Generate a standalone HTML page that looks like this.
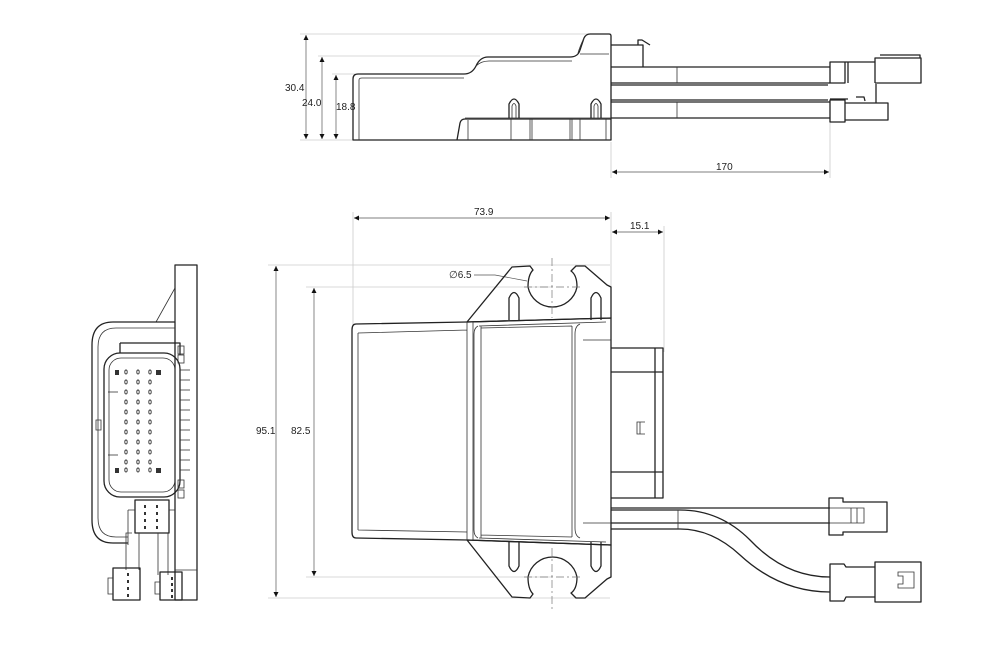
<!DOCTYPE html>
<html><head><meta charset="utf-8"><style>
html,body{margin:0;padding:0;background:#fff;}
svg{display:block;font-family:"Liberation Sans",sans-serif;}
.o{fill:none;stroke:#222;stroke-width:1.3;stroke-linejoin:round}
.t{fill:none;stroke:#333;stroke-width:0.8}
.d{fill:none;stroke:#ccc;stroke-width:0.8}
.dm{fill:none;stroke:#555;stroke-width:0.7}
.c{fill:none;stroke:#777;stroke-width:0.7;stroke-dasharray:8 3 2 3}
text{font-size:10px;fill:#222}
</style></head><body>
<svg width="1000" height="660" viewBox="0 0 1000 660" xmlns="http://www.w3.org/2000/svg">
<defs>
<marker id="a" viewBox="0 0 10 10" refX="10" refY="5" markerWidth="11" markerHeight="5" orient="auto-start-reverse" markerUnits="userSpaceOnUse"><path d="M0,0 L10,5 L0,10z" fill="#111"/></marker>
</defs>

<!-- ===== TOP SIDE VIEW ===== -->
<g class="d">
<line x1="300" y1="34" x2="608" y2="34"/>
<line x1="318" y1="56" x2="480" y2="56"/>
<line x1="332" y1="74" x2="355" y2="74"/>
<line x1="300" y1="140" x2="353" y2="140"/>
<line x1="611" y1="142" x2="611" y2="178"/>
<line x1="830" y1="122" x2="830" y2="178"/>
</g>
<g class="dm">
<line x1="306" y1="35" x2="306" y2="139" marker-start="url(#a)" marker-end="url(#a)"/>
<line x1="322" y1="57" x2="322" y2="139" marker-start="url(#a)" marker-end="url(#a)"/>
<line x1="336" y1="75" x2="336" y2="139" marker-start="url(#a)" marker-end="url(#a)"/>
<line x1="612" y1="172" x2="829" y2="172" marker-start="url(#a)" marker-end="url(#a)"/>
</g>
<text x="285" y="91">30.4</text>
<text x="302" y="106">24.0</text>
<text x="336" y="110">18.8</text>
<text x="716" y="170">170</text>

<path class="o" d="M353,140 L353,79 Q353,74 358,74 L464,74 Q472,74 476,66 Q480,57 488,57 L570,57 Q578,57 580,50 L584,38 Q586,34 590,34 L609,34 Q611,34 611,36 L611,140 Z"/>
<path class="t" d="M359,140 L359,80 Q359,78 362,78 L464,78 M476,66 Q481,61 489,61 L572,61 M584,38 Q580,46 578,53 M580,54 L609,54"/>
<path class="o" d="M457,140 L460,123 Q461,119 465,119 L611,119"/>
<line class="t" x1="468" y1="120" x2="468" y2="140"/><line class="t" x1="465" y1="118" x2="611" y2="118"/>
<g class="t"><line x1="511" y1="119" x2="511" y2="140"/><line x1="530" y1="119" x2="530" y2="140"/><line x1="532" y1="119" x2="532" y2="140"/><line x1="570" y1="119" x2="570" y2="140"/><line x1="572" y1="119" x2="572" y2="140"/><line x1="580" y1="119" x2="580" y2="140"/><line x1="606" y1="119" x2="606" y2="140"/></g>
<path class="o" d="M509,118 L509,104 Q514,94 519,104 L519,118 M591,118 L591,104 Q596,94 601,104 L601,118"/>
<path class="t" d="M512,118 L512,106 Q514,101 516,106 L516,118 M594,118 L594,106 Q596,101 598,106 L598,118"/>
<path class="o" d="M611,45 L643,45 L643,67 M638,45 L638,40 L642,40 L650,45"/>
<g class="o">
<line x1="611" y1="67" x2="830" y2="67"/>
<line x1="611" y1="83" x2="830" y2="83"/>
<line x1="611" y1="85" x2="828" y2="85"/>
<line x1="611" y1="100" x2="828" y2="100"/>
<line x1="611" y1="102" x2="830" y2="102"/>
<line x1="611" y1="118" x2="830" y2="118"/>
</g>
<line class="t" x1="677" y1="67" x2="677" y2="83"/><line class="t" x1="677" y1="102" x2="677" y2="118"/>
<path class="o" d="M830,62 L845,62 L845,83 L830,83 Z M845,62 L875,62 L875,58 L921,58 L921,83 L875,83 M848,62 L848,83 M875,58 L875,83 M880,55 L920,55 L920,58"/>
<path class="o" d="M830,100 L845,100 L845,122 L830,122 Z M845,103 L888,103 L888,120 L845,120 M876,103 L876,84 M856,97 L864,97 L865,101 M830,99 L848,99"/>

<!-- ===== FRONT VIEW ===== -->
<g class="d">
<line x1="353" y1="212" x2="353" y2="325"/>
<line x1="611" y1="212" x2="611" y2="318"/>
<line x1="664" y1="226" x2="664" y2="352"/>
<line x1="268" y1="265" x2="610" y2="265"/>
<line x1="306" y1="287" x2="552" y2="287"/>
<line x1="306" y1="577" x2="552" y2="577"/>
<line x1="268" y1="598" x2="610" y2="598"/>
</g>
<g class="dm">
<line x1="354" y1="218" x2="610" y2="218" marker-start="url(#a)" marker-end="url(#a)"/>
<line x1="612" y1="232" x2="663" y2="232" marker-start="url(#a)" marker-end="url(#a)"/>
<line x1="276" y1="266" x2="276" y2="597" marker-start="url(#a)" marker-end="url(#a)"/>
<line x1="314" y1="288" x2="314" y2="576" marker-start="url(#a)" marker-end="url(#a)"/>
</g>
<text x="474" y="215">73.9</text>
<text x="630" y="229">15.1</text>
<text x="256" y="434">95.1</text>
<text x="291" y="434">82.5</text>
<text x="449" y="278">∅6.5</text>
<path class="dm" d="M474,275 L495,275 L527,281"/>

<path class="o" d="M467,322 L512,267 L530,266 L533,270 Q528,275 528,287 A25,25 0 0 0 577,287 Q577,275 571,271 L576,266 L585,266 L607,285 L611,287 L611,318 Z"/>
<path class="o" d="M467,540 L512,597 L530,598 L533,594 Q528,589 528,577 A25,25 0 0 1 577,577 Q577,589 571,593 L576,598 L585,598 L607,579 L611,577 L611,545 Z"/>
<line class="c" x1="552" y1="258" x2="552" y2="318"/>
<line class="c" x1="524" y1="287" x2="580" y2="287"/>
<line class="c" x1="552" y1="548" x2="552" y2="610"/>
<line class="c" x1="524" y1="577" x2="580" y2="577"/>
<path class="o" d="M509,320 L509,298 Q514,287 519,298 L519,320 M591,320 L591,298 Q596,287 601,298 L601,320"/>
<path class="o" d="M509,542 L509,566 Q514,577 519,566 L519,542 M591,542 L591,566 Q596,577 601,566 L601,542"/>
<path class="o" d="M356,324 L467,322 L611,318 L611,545 L467,540 L356,538 Q352,538 352,532 L352,330 Q352,324 356,324 Z"/>
<path class="t" d="M358,333 L467,330 M358,530 L467,532 M358,333 L358,530 M467,322 L467,540 M473,322 L473,540 M478,326 Q474,328 474,334 L474,530 Q474,536 478,538 M481,326 L481,538 M481,328 L572,326 M481,535 L572,537 M572,326 L572,537 M580,324 Q575,326 575,334 L575,528 Q575,536 580,538 M583,340 L611,340 M583,523 L611,523 M479,326 L606,322 M479,538 L606,542"/>
<path class="o" d="M611,348 L663,348 L663,498 L611,498 M611,372 L663,372 M611,472 L663,472 M655,348 L655,498"/>
<path class="t" d="M645,422 L637,422 L637,434 L645,434 M640,422 L640,434"/>
<path class="o" d="M611,508 L830,508 M611,523 L830,523 M611,510 L680,510 Q720,510 750,540 Q785,577 830,577 M611,529 L680,529 Q712,529 740,555 Q780,592 830,592"/>
<line class="t" x1="678" y1="510" x2="678" y2="529"/>
<path class="o" d="M829,498 L843,498 L843,502 L887,502 L887,532 L843,532 L843,535 L829,535 Z"/>
<path class="t" d="M829,508 L864,508 L864,523 L829,523 M851,508 L851,523 M857,508 L857,523"/>
<path class="o" d="M830,564 L844,564 L846,567 L875,567 L875,562 L921,562 L921,602 L875,602 L875,597 L846,597 L844,601 L830,601 Z M875,562 L875,602"/>
<path class="t" d="M898,572 L914,572 L914,588 L898,588 L898,584 L903,584 L903,576 L898,576 Z"/>

<!-- ===== END VIEW (left) ===== -->
<path class="o" d="M175,265 L197,265 L197,600 L175,600 Z"/>
<path class="t" d="M175,288 L156,322 M175,265 L175,322 M175,570 L197,570"/>
<path class="o" d="M175,322 L113,322 Q92,322 92,345 L92,520 Q92,543 113,543 L128,543"/>
<path class="t" d="M175,328 L116,328 Q98,328 98,347 L98,518 Q98,537 116,537 L128,537"/>
<path class="o" d="M120,343 L180,343 L180,355 M120,343 L120,353"/>
<rect class="o" x="104" y="353" width="76" height="144" rx="16"/>
<rect class="t" x="109" y="358" width="66" height="134" rx="12"/>
<path class="t" d="M96,420 L101,420 L101,430 L96,430 Z"/>
<g class="t">
<rect x="178" y="346" width="6" height="8"/><rect x="178" y="355" width="6" height="8"/>
<line x1="180" y1="370" x2="190" y2="370"/><line x1="180" y1="380" x2="190" y2="380"/><line x1="180" y1="390" x2="190" y2="390"/><line x1="180" y1="400" x2="190" y2="400"/><line x1="180" y1="410" x2="190" y2="410"/><line x1="180" y1="420" x2="190" y2="420"/><line x1="180" y1="430" x2="190" y2="430"/><line x1="180" y1="440" x2="190" y2="440"/><line x1="180" y1="450" x2="190" y2="450"/><line x1="180" y1="460" x2="190" y2="460"/><line x1="180" y1="470" x2="190" y2="470"/>
<rect x="178" y="480" width="6" height="8"/><rect x="178" y="490" width="6" height="8"/>
<line x1="108" y1="392" x2="118" y2="392"/><line x1="108" y1="455" x2="118" y2="455"/>
</g>
<g fill="#333">
<rect x="115" y="370" width="4" height="5"/><rect x="156" y="370" width="5" height="5"/>
<rect x="115" y="468" width="4" height="5"/><rect x="156" y="468" width="5" height="5"/>
</g>
<g fill="none" stroke="#333" stroke-width="0.9">
<g id="col">
<ellipse cx="126" cy="372" rx="1.2" ry="2"/><ellipse cx="126" cy="382" rx="1.2" ry="2"/><ellipse cx="126" cy="392" rx="1.2" ry="2"/><ellipse cx="126" cy="402" rx="1.2" ry="2"/><ellipse cx="126" cy="412" rx="1.2" ry="2"/><ellipse cx="126" cy="422" rx="1.2" ry="2"/><ellipse cx="126" cy="432" rx="1.2" ry="2"/><ellipse cx="126" cy="442" rx="1.2" ry="2"/><ellipse cx="126" cy="452" rx="1.2" ry="2"/><ellipse cx="126" cy="462" rx="1.2" ry="2"/><ellipse cx="126" cy="470" rx="1.2" ry="2"/>
</g>
<use href="#col" x="12"/><use href="#col" x="24"/>
</g>
<rect class="o" x="135" y="500" width="34" height="33"/>
<g fill="#333"><rect x="144" y="505" width="2" height="3"/><rect x="156" y="505" width="2" height="3"/><rect x="144" y="512" width="2" height="3"/><rect x="156" y="512" width="2" height="3"/><rect x="144" y="519" width="2" height="3"/><rect x="156" y="519" width="2" height="3"/><rect x="144" y="526" width="2" height="3"/><rect x="156" y="526" width="2" height="3"/></g>
<path class="t" d="M128,510 L135,510 M128,510 L128,545 M169,510 L175,510 M132,533 L126,533 L126,570 M139,533 L139,570 M158,533 L158,575 M168,533 L168,575"/>
<rect class="o" x="113" y="568" width="27" height="32"/>
<rect class="o" x="160" y="572" width="22" height="28"/>
<path class="t" d="M113,578 L108,578 L108,594 L113,594 M160,582 L155,582 L155,594 L160,594"/>
<g fill="#333"><rect x="127" y="573" width="2" height="3"/><rect x="127" y="580" width="2" height="3"/><rect x="127" y="587" width="2" height="3"/><rect x="127" y="594" width="2" height="3"/><rect x="171" y="577" width="2" height="3"/><rect x="171" y="583" width="2" height="3"/><rect x="171" y="589" width="2" height="3"/><rect x="171" y="595" width="2" height="3"/></g>
</svg>
</body></html>
